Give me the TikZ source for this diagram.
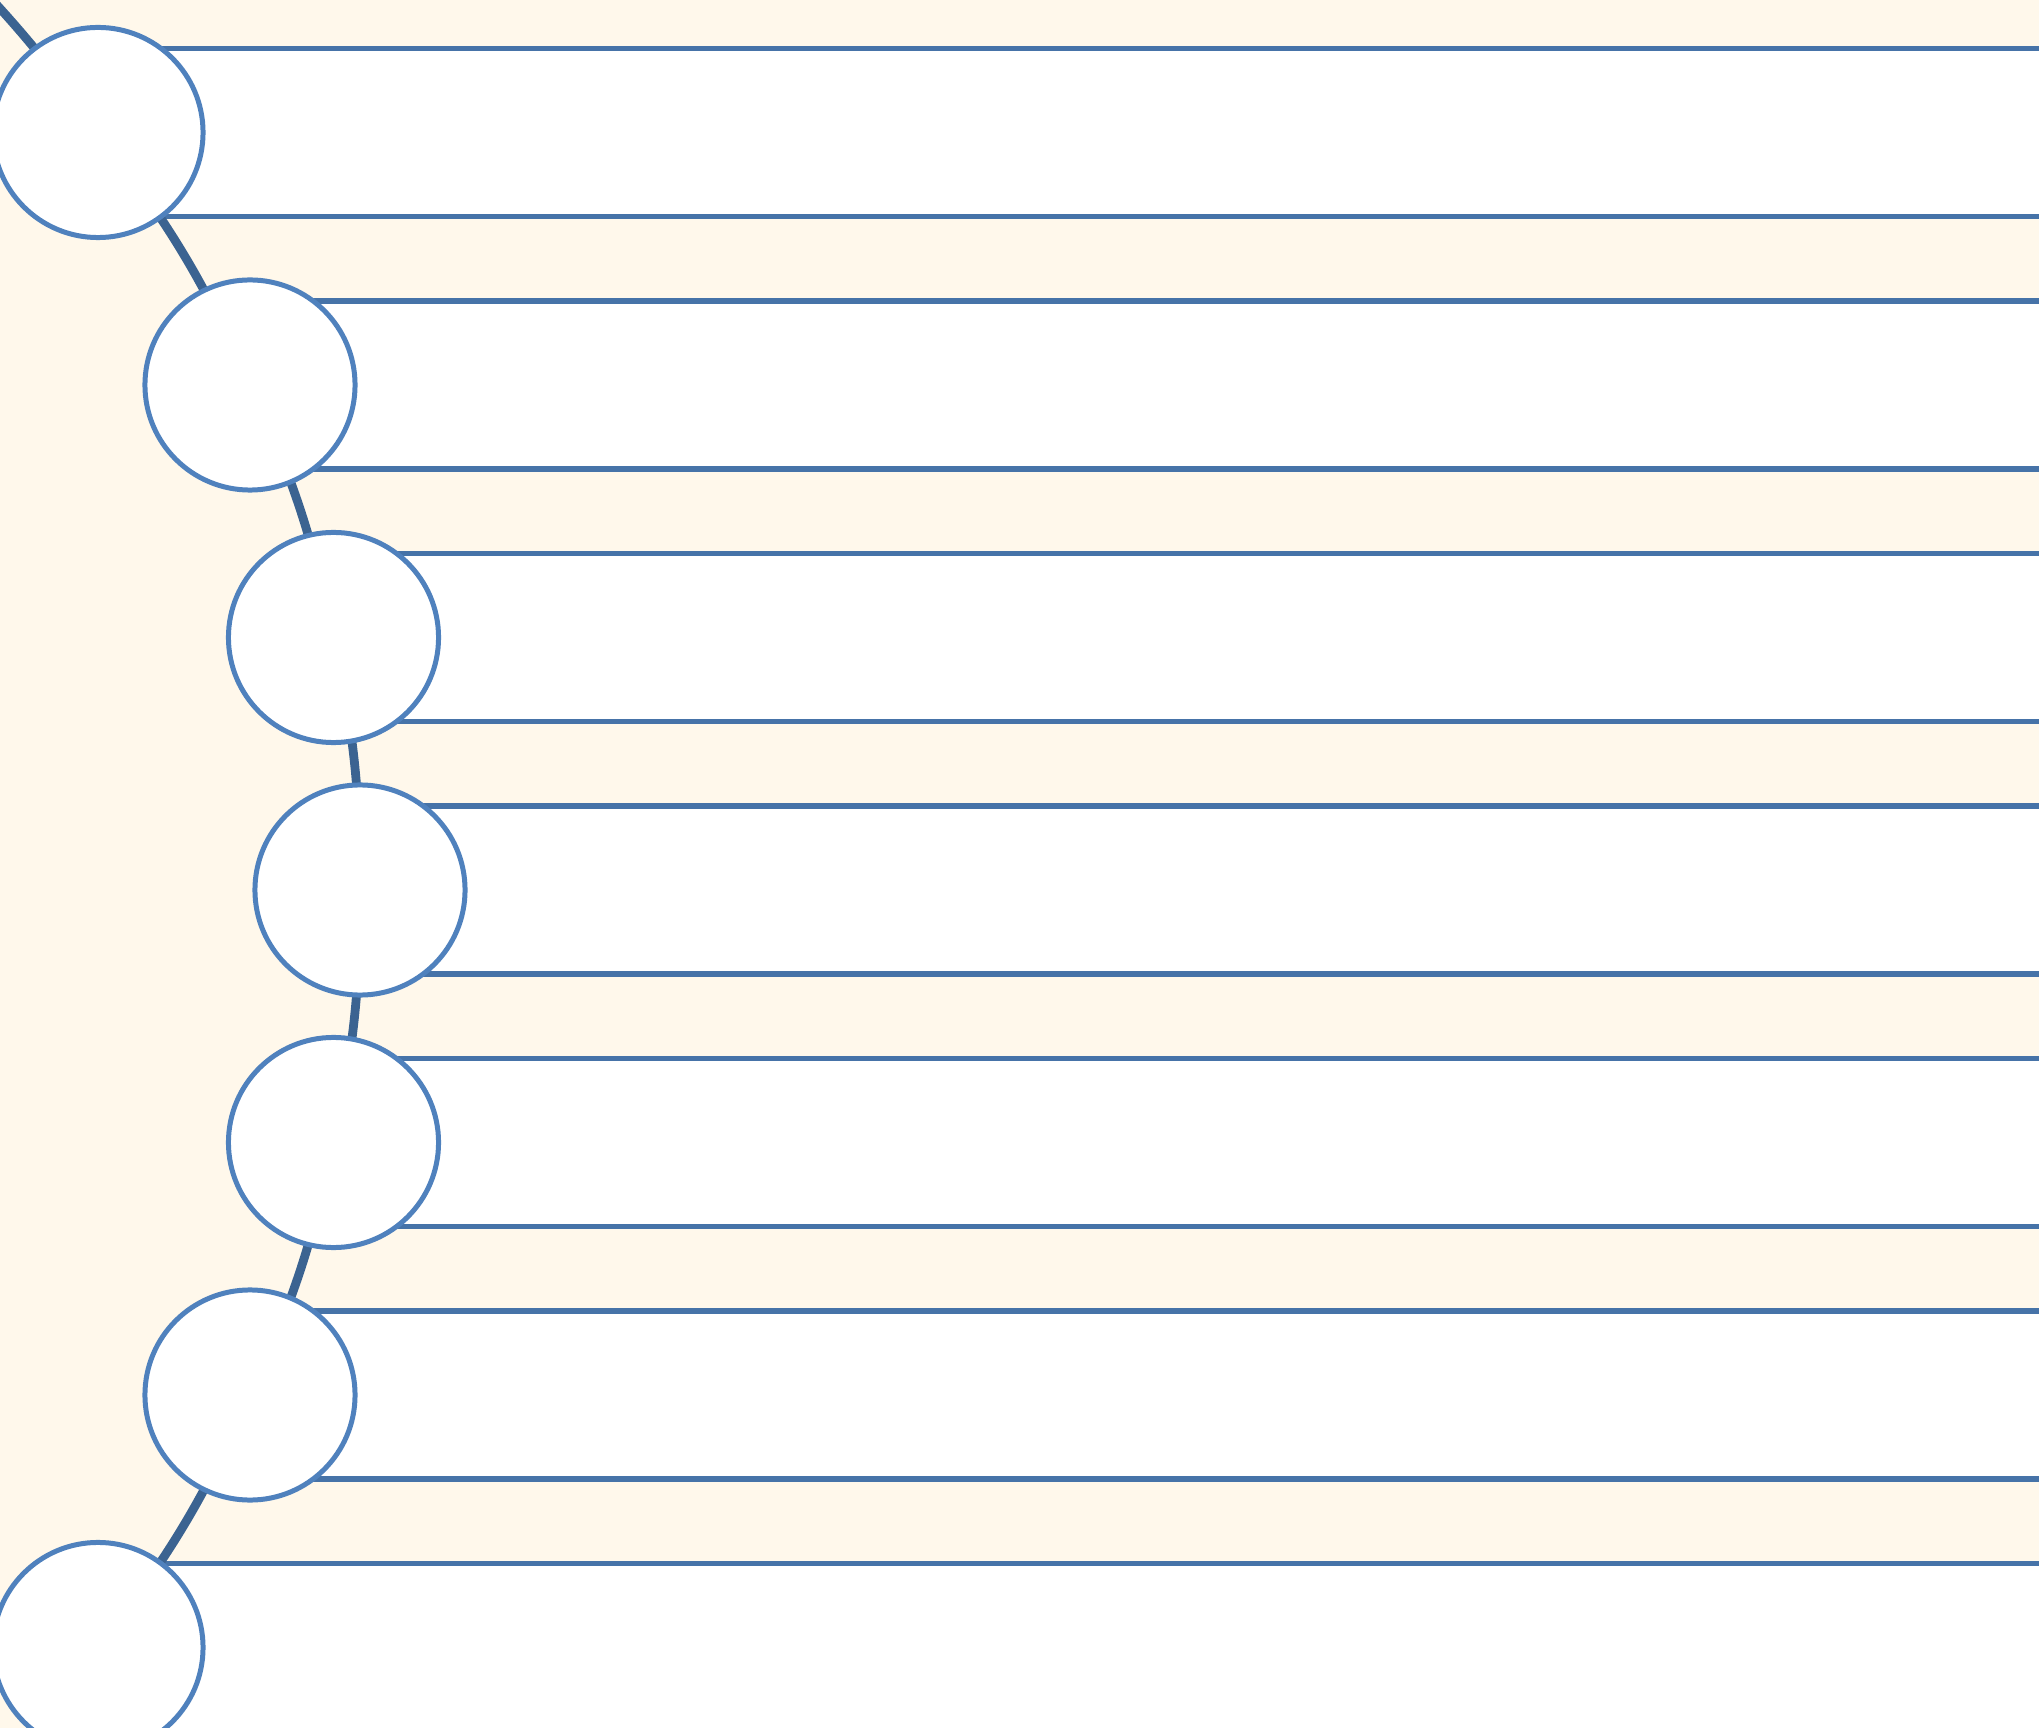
\documentclass[tikz,border=0pt]{standalone}
\usepackage{tikz}
\usetikzlibrary{positioning, backgrounds}
\usepackage{xcolor}

\definecolor{creambg}{HTML}{FFF8EB}
\definecolor{ringblue}{HTML}{4F81BD}
\definecolor{bandline}{HTML}{4673A8}
\definecolor{spineblue}{HTML}{3B6391}

\begin{document}
\begin{tikzpicture}[x=0.01cm, y=-0.01cm, node distance=0pt,
            milestone/.style={circle, draw=ringblue, fill=white, line width=1.42pt, minimum size=2.1cm, inner sep=0pt},
            band/.style={rectangle, fill=white, minimum width=21cm, minimum height=1.68cm, inner sep=0pt, outer sep=0pt},
            rule/.style={draw=bandline, line width=1.5pt},
            spine/.style={draw=spineblue, line width=2.5pt}]

        \useasboundingbox (0,0) rectangle (2039,1728);
        \clip (0,0) rectangle (2039,1728);

        % Milestones along the curve
        \node [milestone] (c1) at (98,132.5) {};
        \node [milestone] (c2) at (250,385) {};
        \node [milestone] (c3) at (333.5,637.5) {};
        \node [milestone] (c4) at (360,890) {};
        \node [milestone] (c5) at (333.5,1142.5) {};
        \node [milestone] (c6) at (250,1395) {};
        \node [milestone] (c7) at (98,1647.5) {};
        \coordinate (top) at (-30,-24);
        \coordinate (bot) at (-30,1804);

        \begin{scope}[on background layer]
            \clip (0,0) rectangle (2039,1728);
            \fill [creambg] (0,0) rectangle (2039,1728);

            % Bands
            \node [band, right=of c1.center] (b1) {};
            \node [band, right=of c2.center] (b2) {};
            \node [band, right=of c3.center] (b3) {};
            \node [band, right=of c4.center] (b4) {};
            \node [band, right=of c5.center] (b5) {};
            \node [band, right=of c6.center] (b6) {};
            \node [band, right=of c7.center] (b7) {};

            % Band edges
            \draw [rule] (b1.north west) -- (b1.north east) (b1.south west) -- (b1.south east);
            \draw [rule] (b2.north west) -- (b2.north east) (b2.south west) -- (b2.south east);
            \draw [rule] (b3.north west) -- (b3.north east) (b3.south west) -- (b3.south east);
            \draw [rule] (b4.north west) -- (b4.north east) (b4.south west) -- (b4.south east);
            \draw [rule] (b5.north west) -- (b5.north east) (b5.south west) -- (b5.south east);
            \draw [rule] (b6.north west) -- (b6.north east) (b6.south west) -- (b6.south east);
            \draw [rule] (b7.north west) -- (b7.north east) (b7.south west) -- (b7.south east);

            % Curve through the milestones
            \draw [spine] (top) to[bend left=4] (c1.center) to[bend left=7] (c2.center)
                to[bend left=6.35] (c3.center) to[bend left=6] (c4.center)
                to[bend left=6] (c5.center) to[bend left=6.35] (c6.center)
                to[bend left=7] (c7.center) to[bend left=4] (bot);
        \end{scope}

    \end{tikzpicture}
\end{document}
